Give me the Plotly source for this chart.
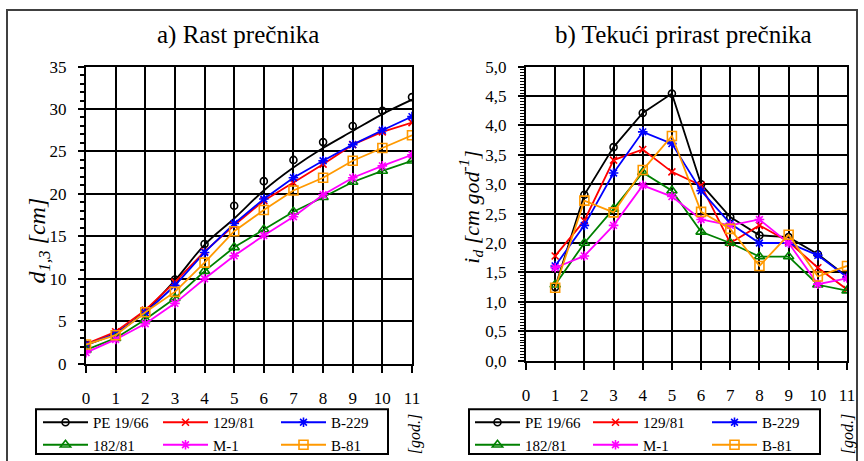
import plotly.graph_objects as go

W, H = 864, 461

# ---- data ----
years_a = list(range(0, 12))
years_b = list(range(1, 12))
series_names = ["PE 19/66", "129/81", "B-229", "182/81", "M-1", "B-81"]

# a) diameter growth d1,3 [cm] (points)
d_pe1966 = [2.2, 3.5, 6.2, 9.9, 14.1, 18.6, 21.5, 24.0, 26.1, 28.0, 29.8, 31.4]
d_129_81 = [2.3, 3.75, 6.3, 9.6, 13.2, 16.3, 19.2, 21.3, 23.5, 25.8, 27.3, 28.4]
d_b229 = [2.2, 3.5, 6.0, 9.2, 13.1, 16.5, 19.4, 21.9, 23.9, 25.8, 27.5, 29.1]
d_182_81 = [1.6, 3.0, 5.2, 7.7, 10.9, 13.7, 15.8, 17.9, 19.6, 21.4, 22.7, 23.9]
d_m1 = [1.3, 2.85, 4.7, 7.1, 10.0, 12.7, 15.1, 17.3, 19.9, 21.9, 23.3, 24.6]
d_b81 = [2.25, 3.35, 6.05, 8.45, 11.9, 15.6, 18.1, 20.4, 21.9, 23.9, 25.4, 26.9]
# PE 19/66 curve as drawn in chart a (line)
d_pe1966_line = [2.2, 3.6, 6.2, 9.8, 14.0, 17.1, 20.4, 23.1, 25.4, 27.4, 29.4, 31.1]

# b) current diameter increment i_d [cm god-1]
i_pe1966 = [1.25, 2.82, 3.63, 4.21, 4.54, 3.0, 2.44, 2.13, 2.1, 1.81, 1.43]
i_129_81 = [1.78, 2.38, 3.41, 3.59, 3.21, 2.98, 2.0, 2.3, 2.02, 1.58, 1.21]
i_b229 = [1.61, 2.3, 3.19, 3.89, 3.69, 2.89, 2.33, 2.0, 2.0, 1.79, 1.42]
i_182_81 = [1.29, 2.0, 2.58, 3.2, 2.89, 2.19, 2.0, 1.77, 1.77, 1.29, 1.19]
i_m1 = [1.58, 1.78, 2.3, 2.98, 2.79, 2.4, 2.3, 2.4, 2.0, 1.3, 1.4]
i_b81 = [1.24, 2.72, 2.52, 3.24, 3.82, 2.53, 2.24, 1.61, 2.14, 1.43, 1.61]

x_ticks = list(range(0, 12))

colors = ["#000000", "#FF0000", "#0000FF", "#008000", "#FF00FF", "#FF9900"]
symbols = ["circle-open", "x-thin-open", "asterisk-open", "triangle-up-open", "asterisk-open", "square-open"]
msizes = [7, 7, 8, 9, 8, 9]

FONT = "Liberation Serif"


def px(x):
    return x / W


def py(y):
    return 1 - y / H


fig = go.Figure()

data_a = [d_pe1966, d_129_81, d_b229, d_182_81, d_m1, d_b81]
data_b = [i_pe1966, i_129_81, i_b229, i_182_81, i_m1, i_b81]
col_of = [0, 1, 2, 0, 1, 2]


def leg_name(i):
    return "legend" if i == 0 else f"legend{i+1}"


for k, name in enumerate(series_names):
    mk = dict(symbol=symbols[k], size=msizes[k], color=colors[k],
              line=dict(color=colors[k], width=1.6))
    ln = dict(color=colors[k], width=1.8)
    if k == 0:
        fig.add_trace(go.Scatter(x=years_a, y=d_pe1966_line, mode="lines",
                                 line=dict(color=colors[k], width=1.8, shape="spline"),
                                 xaxis="x", yaxis="y", showlegend=False, hoverinfo="skip"))
        fig.add_trace(go.Scatter(x=years_a, y=data_a[k], mode="markers", marker=mk,
                                 xaxis="x", yaxis="y", showlegend=False))
        fig.add_trace(go.Scatter(x=[None], y=[None], mode="lines+markers", name=name,
                                 marker=mk, line=ln, xaxis="x", yaxis="y",
                                 legend=leg_name(col_of[k])))
    else:
        fig.add_trace(go.Scatter(x=years_a, y=data_a[k], mode="lines+markers", name=name,
                                 marker=mk, line=ln, xaxis="x", yaxis="y",
                                 legend=leg_name(col_of[k])))
    fig.add_trace(go.Scatter(x=years_b, y=data_b[k], mode="lines+markers", name=name,
                             marker=mk, line=ln, xaxis="x2", yaxis="y2",
                             legend=leg_name(col_of[k] + 3)))

axis_common = dict(showline=True, linecolor="black", linewidth=2, mirror=True,
                   showgrid=True, gridcolor="black", gridwidth=1.6, automargin=False,
                   ticks="outside", tickcolor="black", zeroline=False,
                   tickfont=dict(family=FONT, size=17, color="black"))

fig.update_layout(
    template="none",
    width=W, height=H,
    margin=dict(l=0, r=0, t=0, b=0, pad=0),
    paper_bgcolor="white", plot_bgcolor="white",
    separators=",.",
    font=dict(family=FONT, color="black"),
    xaxis=dict(domain=[px(86), px(412)], range=[0, 11], tickvals=x_ticks,
               ticklen=7, tickwidth=1.5, ticklabelstandoff=11, anchor="y", **axis_common),
    yaxis=dict(domain=[py(366), py(67)], range=[0, 35], dtick=5, ticklen=6, tickwidth=1.5,
               ticklabelstandoff=8, anchor="x",
               minor=dict(dtick=1, ticklen=4, ticks="outside", tickcolor="black", tickwidth=1.5,
                          showgrid=False),
               **axis_common),
    xaxis2=dict(domain=[px(526), px(847)], range=[0, 11], tickvals=x_ticks,
                ticklen=7, tickwidth=1.5, ticklabelstandoff=11, anchor="y2", **axis_common),
    yaxis2=dict(domain=[py(363), py(67)], range=[0, 5], dtick=0.5, tickformat=".1f",
                ticklen=6, tickwidth=1.5, ticklabelstandoff=8, anchor="x2",
                minor=dict(dtick=0.05, ticklen=4, ticks="outside", tickcolor="black",
                           tickwidth=1.2, showgrid=False),
                **axis_common),
)

leg_common = dict(bgcolor="rgba(0,0,0,0)", borderwidth=0, itemwidth=45,
                  font=dict(family=FONT, size=15, color="black"),
                  xanchor="left", yanchor="top", tracegroupgap=0, orientation="v")
leg_x = [38, 158, 276, 470, 588, 707]
for i, lx in enumerate(leg_x):
    fig.update_layout({leg_name(i): dict(x=px(lx), y=py(409), **leg_common)})

shapes = [
    dict(type="rect", xref="paper", yref="paper", x0=px(7), x1=px(857), y0=py(470), y1=py(10),
         line=dict(color="#404040", width=2)),
    dict(type="rect", xref="paper", yref="paper", x0=px(36), x1=px(388), y0=py(457), y1=py(412),
         line=dict(color="black", width=2)),
    dict(type="rect", xref="paper", yref="paper", x0=px(469), x1=px(820), y0=py(457), y1=py(412),
         line=dict(color="black", width=2)),
]
fig.update_layout(shapes=shapes)

ann = [
    dict(text="a) Rast prečnika", x=px(238), y=py(35), font=dict(size=25)),
    dict(text="b) Tekući prirast prečnika", x=px(683), y=py(35), font=dict(size=25)),
    dict(text="<i>d</i><sub><i>1,3</i></sub><i> [cm]</i>", x=px(39), y=py(242), textangle=-90,
         font=dict(size=24)),
    dict(text="<i>i</i><sub><i>d</i></sub><i> [cm god</i><sup><i>-1</i></sup><i>]</i>", x=px(471),
         y=py(208), textangle=-90, font=dict(size=22)),
    dict(text="<i>[god.]</i>", x=px(415), y=py(437), textangle=-90, font=dict(size=16)),
    dict(text="<i>[god.]</i>", x=px(848), y=py(437), textangle=-90, font=dict(size=16)),
]
for a in ann:
    a.update(xref="paper", yref="paper", showarrow=False, xanchor="center", yanchor="middle")
    a["font"] = dict(family=FONT, color="black", **a["font"])
fig.update_layout(annotations=ann)

fig.write_html("out.html", config={"displayModeBar": False},
               post_script="document.body.style.margin='0px';")
